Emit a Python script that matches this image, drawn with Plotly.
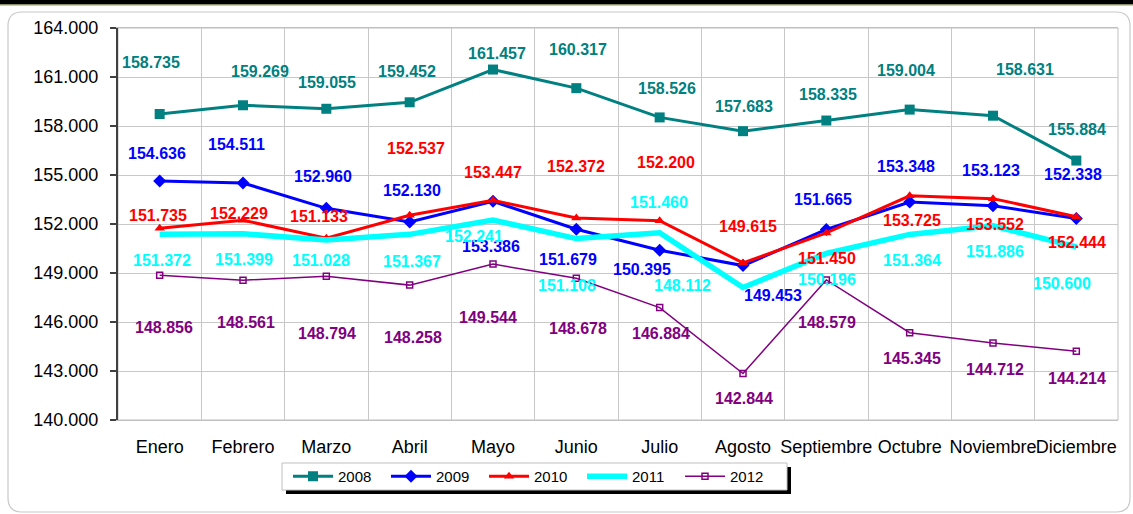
import plotly.graph_objects as go

# ---------------- data ----------------
MONTHS = ["Enero", "Febrero", "Marzo", "Abril", "Mayo", "Junio", "Julio",
          "Agosto", "Septiembre", "Octubre", "Noviembre", "Diciembre"]

Y2008 = [158735, 159269, 159055, 159452, 161457, 160317, 158526, 157683, 158335, 159004, 158631, 155884]
Y2009 = [154636, 154511, 152960, 152130, 153386, 151679, 150395, 149453, 151665, 153348, 153123, 152338]
Y2010 = [151735, 152229, 151133, 152537, 153447, 152372, 152200, 149615, 151450, 153725, 153552, 152444]
Y2011 = [151372, 151399, 151028, 151367, 152241, 151108, 151460, 148112, 150196, 151364, 151886, 150600]
Y2012 = [148856, 148561, 148794, 148258, 149544, 148678, 146884, 142844, 148579, 145345, 144712, 144214]

Y_TICKS = [140000, 143000, 146000, 149000, 152000, 155000, 158000, 161000, 164000]

# ---------------- label offsets (pixels: dx right, dy up) ----------------
OFF2008 = [(-9, 51), (17, 34), (1, 26), (-3, 31), (4, 16), (2, 39), (7, 29), (1, 25), (2, 26), (-4, 39), (32, 46), (1, 31)]
OFF2009 = [(-3, 27), (-7, 38), (-3, 32), (2, 31), (-2, -45), (-8, -30), (-18, -19), (30, -30), (-3, 30), (-4, 35), (-2, 35), (-3, 44)]
OFF2010 = [(-2, 13), (-4, 7), (-7, 22), (6, 67), (0, 28), (0, 51), (6, 58), (5, 36), (1, -26), (2, -25), (2, -26), (1, -26)]
OFF2011 = [(2, -26), (1, -26), (-5, -21), (2, -27), (-19, -16), (-9, -47), (-1, 30), (-61, 2), (1, -26), (2, -26), (2, -26), (-14, -37)]
OFF2012 = [(4, -52), (3, -42), (1, -57), (3, -52), (-5, -53), (2, -50), (1, -26), (1, -25), (1, -43), (2, -26), (2, -26), (1, -27)]

FONT = "Liberation Sans, Arial, sans-serif"

SERIES = [
    ("2008", Y2008, OFF2008, "#008080", dict(width=3), dict(symbol="square", size=10), "lines+markers"),
    ("2009", Y2009, OFF2009, "#0000FF", dict(width=3), dict(symbol="diamond", size=10), "lines+markers"),
    ("2010", Y2010, OFF2010, "#FF0000", dict(width=3), dict(symbol="triangle-up", size=9), "lines+markers"),
    ("2011", Y2011, OFF2011, "#00FFFF", dict(width=5.5), None, "lines"),
    ("2012", Y2012, OFF2012, "#800080", dict(width=1.5), dict(symbol="square-open", size=6, line=dict(width=1.5)), "lines+markers"),
]

def fmt(v):
    return f"{v:,}".replace(",", ".")

fig = go.Figure()
annotations = []
for name, vals, offs, color, line, marker, mode in SERIES:
    kw = dict(x=MONTHS, y=vals, name=name, mode=mode,
              line=dict(color=color, **line))
    if marker:
        kw["marker"] = dict(color=color, **marker)
    fig.add_trace(go.Scatter(**kw))
    for m, v, (dx, dy) in zip(MONTHS, vals, offs):
        annotations.append(dict(x=m, y=v, xref="x", yref="y", text=f"<b>{fmt(v)}</b>",
                                showarrow=False, xshift=dx, yshift=dy,
                                font=dict(family=FONT, size=16, color=color)))

# ---------------- layout helpers ----------------
W, H = 1133, 514
L, R, T, B = 118, 15, 28, 94
PW, PH = W - L - R, H - T - B

def X(px):
    return (px - L) / PW

def Y(py):
    return (H - B - py) / PH

def rounded_path(x0, y0, x1, y1, r):
    pts = [
        f"M {X(x0 + r)},{Y(y0)}",
        f"L {X(x1 - r)},{Y(y0)}",
        f"Q {X(x1)},{Y(y0)} {X(x1)},{Y(y0 + r)}",
        f"L {X(x1)},{Y(y1 - r)}",
        f"Q {X(x1)},{Y(y1)} {X(x1 - r)},{Y(y1)}",
        f"L {X(x0 + r)},{Y(y1)}",
        f"Q {X(x0)},{Y(y1)} {X(x0)},{Y(y1 - r)}",
        f"L {X(x0)},{Y(y0 + r)}",
        f"Q {X(x0)},{Y(y0)} {X(x0 + r)},{Y(y0)}",
        "Z",
    ]
    return " ".join(pts)

shapes = [
    # outer rounded frame
    dict(type="path", xref="paper", yref="paper", path=rounded_path(8, 12, 1130, 512, 14),
         line=dict(color="#c8c8c8", width=1.2), fillcolor="rgba(0,0,0,0)", layer="below"),
    # top black bar
    dict(type="rect", xref="paper", yref="paper", x0=X(-5), x1=X(W + 5), y0=Y(4.5), y1=Y(-5),
         line=dict(width=0), fillcolor="#000000"),
    dict(type="line", xref="paper", yref="paper", x0=X(0), x1=X(W), y0=Y(5), y1=Y(5),
         line=dict(color="#9a9a50", width=1)),
    # legend shadow and box
    dict(type="rect", xref="paper", yref="paper", x0=X(286), x1=X(791), y0=Y(494), y1=Y(467),
         line=dict(width=0), fillcolor="#000000", layer="above"),
    dict(type="rect", xref="paper", yref="paper", x0=X(282), x1=X(787), y0=Y(490), y1=Y(463),
         line=dict(color="#c0c0c0", width=1), fillcolor="#ffffff", layer="above"),
    # right/top plot border (grey)
    dict(type="rect", xref="paper", yref="paper", x0=0, x1=1, y0=0, y1=1,
         line=dict(color="#c0c0c0", width=1), fillcolor="rgba(0,0,0,0)", layer="below"),
]

fig.update_layout(
    width=W, height=H,
    margin=dict(l=L, r=R, t=T, b=B, autoexpand=False),
    paper_bgcolor="white", plot_bgcolor="white",
    separators=",.",
    font=dict(family=FONT, color="black"),
    showlegend=True,
    legend=dict(orientation="h", x=X(288), y=Y(476.5), xanchor="left", yanchor="middle",
                bgcolor="rgba(0,0,0,0)", borderwidth=0,
                font=dict(family=FONT, size=15, color="black"),
                itemwidth=40, entrywidth=43, entrywidthmode="pixels",
                tracegroupgap=0),
    annotations=annotations,
    shapes=shapes,
    xaxis=dict(type="category", categoryarray=MONTHS, range=[-0.5, 11.5],
               showgrid=True, gridcolor="#c8c8c8", gridwidth=1, tickson="boundaries",
               ticks="", showline=True, linecolor="#c0c0c0", linewidth=1, mirror=True,
               tickangle=0, automargin=False,
               tickfont=dict(family=FONT, size=18, color="black"),
               ticklabelstandoff=10, zeroline=False, fixedrange=True),
    yaxis=dict(range=[140000, 164000], tickvals=Y_TICKS, ticktext=[fmt(v) for v in Y_TICKS],
               showgrid=True, gridcolor="#c8c8c8", gridwidth=1,
               ticks="outside", ticklen=6, tickcolor="#404040", tickwidth=1.5,
               showline=True, linecolor="#404040", linewidth=2, automargin=False,
               tickfont=dict(family=FONT, size=18, color="black"),
               ticklabelstandoff=8, zeroline=False, fixedrange=True),
)

fig.write_html("out.html", config={"displayModeBar": False},
               post_script="document.body.style.margin='0';document.body.style.overflow='hidden';")
